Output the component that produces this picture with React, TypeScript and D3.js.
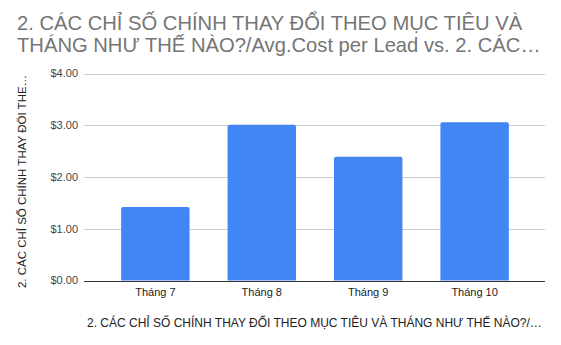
import React from "react";
import * as d3 from "d3";

const categories = ["Tháng 7", "Tháng 8", "Tháng 9", "Tháng 10"];
const values = [1.42, 3.01, 2.39, 3.06];
const yTicks = [0, 1, 2, 3, 4];
const titleLines = [
  "2. CÁC CHỈ SỐ CHÍNH THAY ĐỔI THEO MỤC TIÊU VÀ",
  "THÁNG NHƯ THẾ NÀO?/Avg.Cost per Lead vs. 2. CÁC…",
];
const yTitle = "2. CÁC CHỈ SỐ CHÍNH THAY ĐỔI THE…";
const xTitle = "2. CÁC CHỈ SỐ CHÍNH THAY ĐỔI THEO MỤC TIÊU VÀ THÁNG NHƯ THẾ NÀO?/…";

const W = 561;
const H = 345;
const FONT = "Arial, 'Liberation Sans', sans-serif";

export default function App() {
  const y = d3.scaleLinear().domain([0, 4]).range([280.5, 73.5]);
  const x = d3
    .scaleBand<string>()
    .domain(categories)
    .range([102, 528])
    .paddingInner(0.357)
    .paddingOuter(0.18);
  const gridX0 = 84;
  const gridX1 = 545;
  const fmt = (v: number) => "$" + v.toFixed(2);

  return (
    <svg
      width={W}
      height={H}
      style={{ position: "absolute", left: 0, top: 0, background: "#fff" }}
      fontFamily={FONT}
    >
      <rect width={W} height={H} fill="#fff" />
      {titleLines.map((t, i) => (
        <text key={i} x={17} y={30 + i * 22} fontSize={20.2} fill="#757575">
          {t}
        </text>
      ))}
      {yTicks.map((t) => (
        <g key={t}>
          <line
            x1={gridX0}
            x2={gridX1}
            y1={Math.round(y(t)) + 0.5}
            y2={Math.round(y(t)) + 0.5}
            stroke={t === 0 ? "#333" : "#ccc"}
            strokeWidth={1}
          />
          <text
            x={78}
            y={y(t)}
            dy="0.35em"
            textAnchor="end"
            fontSize={11}
            fill="#444"
          >
            {fmt(t)}
          </text>
        </g>
      ))}
      {categories.map((c, i) => {
        const x0 = x(c)!;
        const top = y(values[i]);
        const bottom = y(0);
        const w = x.bandwidth();
        const r = 2;
        const path = `M${x0},${bottom} V${top + r} Q${x0},${top} ${x0 + r},${top} H${x0 + w - r} Q${x0 + w},${top} ${x0 + w},${top + r} V${bottom} Z`;
        return <path key={c} d={path} fill="#4285f4" />;
      })}
      {categories.map((c) => (
        <text
          key={c}
          x={x(c)! + x.bandwidth() / 2}
          y={296}
          textAnchor="middle"
          fontSize={11}
          fill="#222"
        >
          {c}
        </text>
      ))}
      <text x={87} y={327} fontSize={12} fill="#222">
        {xTitle}
      </text>
      <text
        transform={`translate(26,181.5) rotate(-90)`}
        textAnchor="middle"
        fontSize={11.5}
        fill="#222"
      >
        {yTitle}
      </text>
    </svg>
  );
}
